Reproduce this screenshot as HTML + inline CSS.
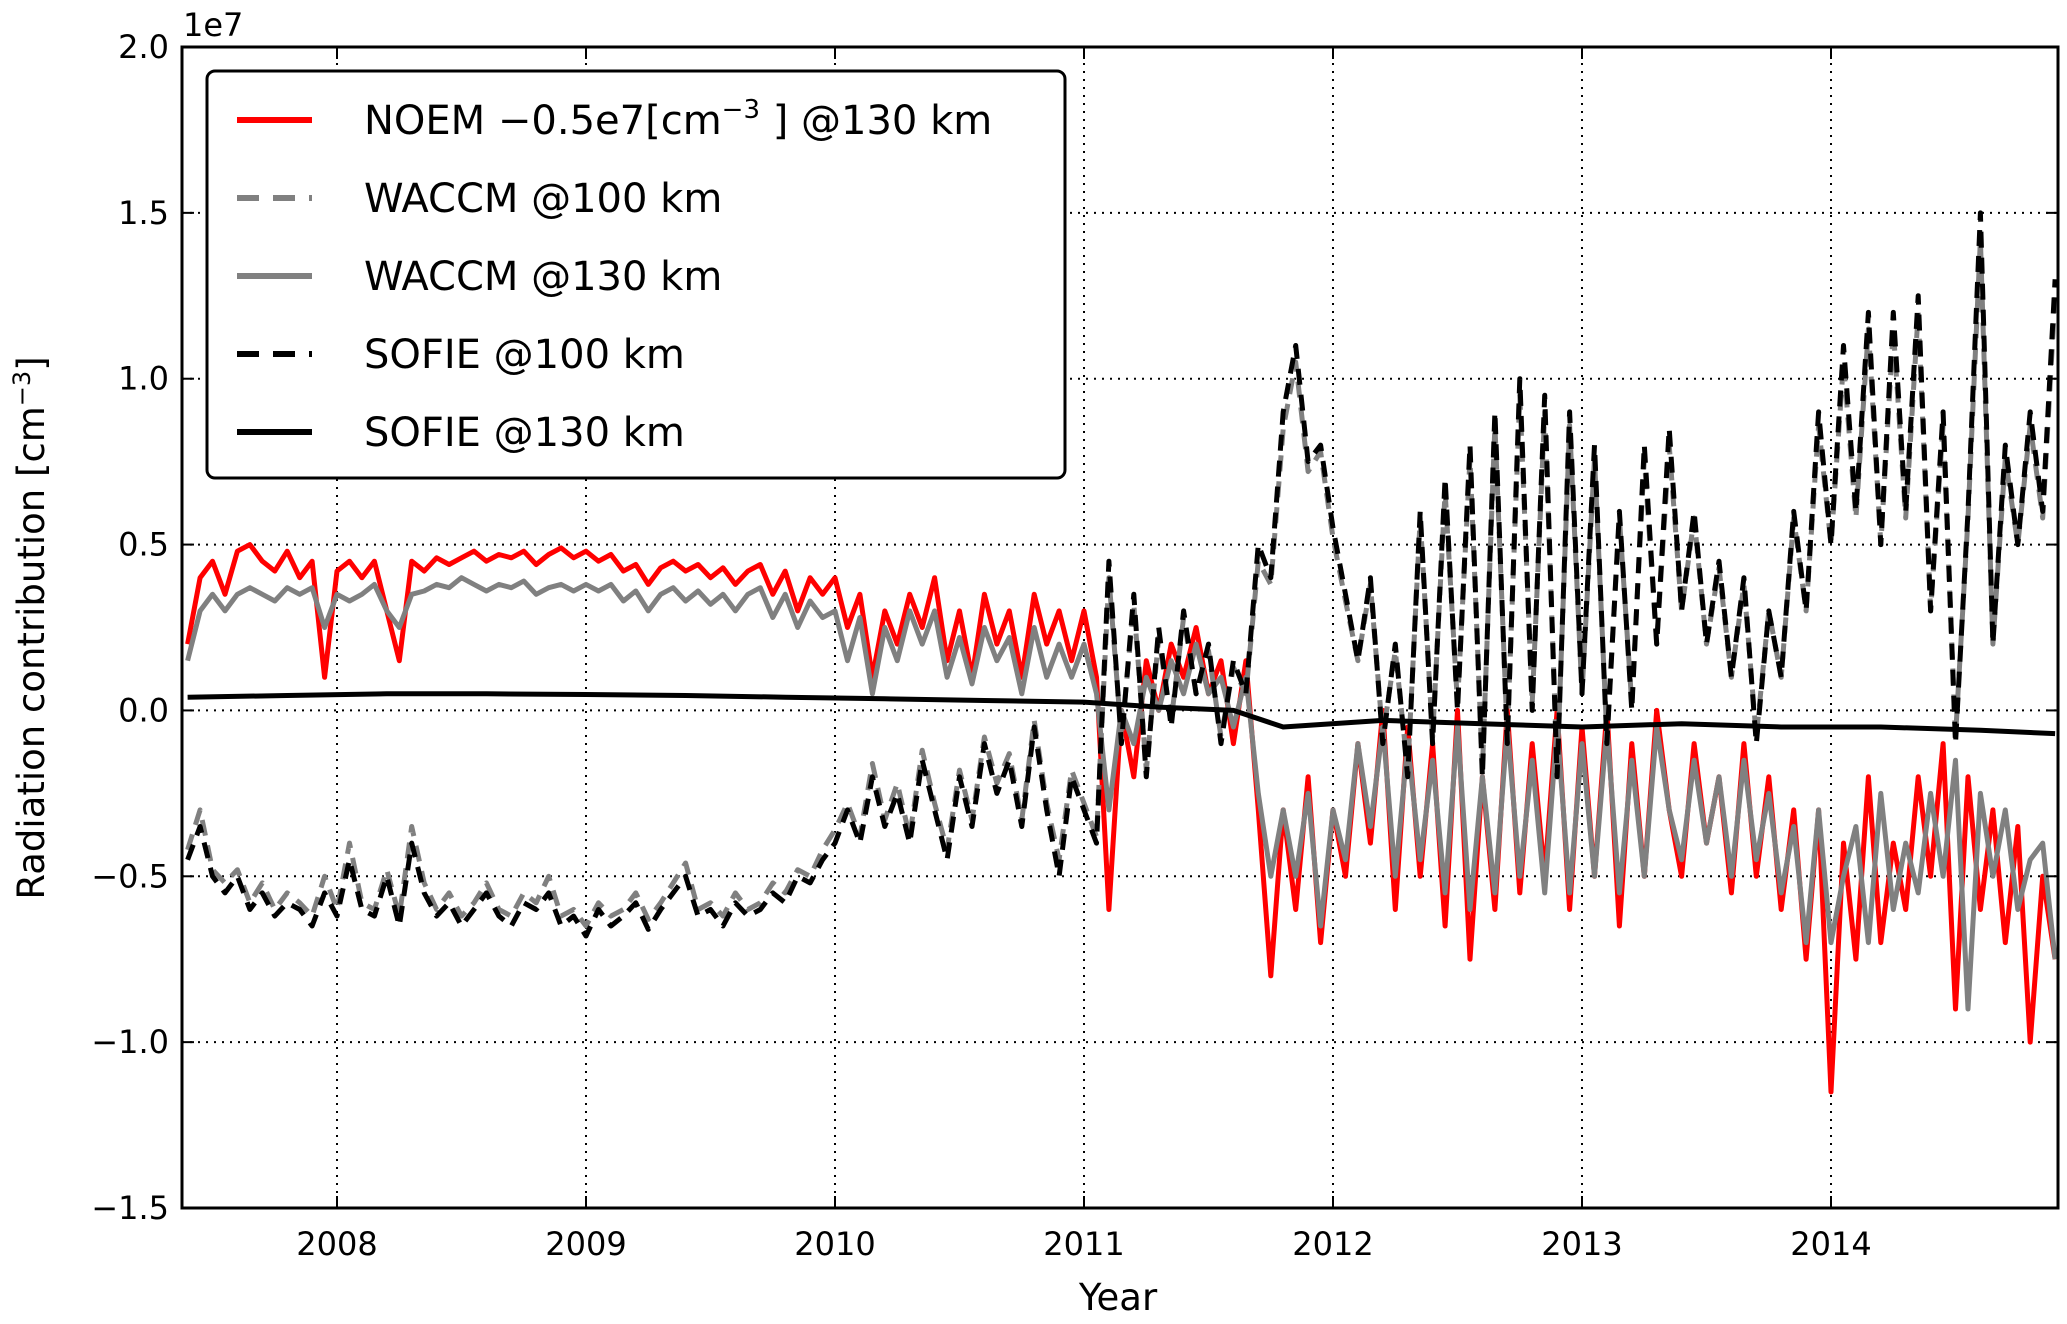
<!DOCTYPE html>
<html><head><meta charset="utf-8"><style>
html,body{margin:0;padding:0;background:#fff;}
svg text{font-family:"DejaVu Sans","Liberation Sans",sans-serif;fill:#000;}
</style></head><body>
<svg id="chart" width="2067" height="1319" viewBox="0 0 2067 1319" xmlns="http://www.w3.org/2000/svg">
<g id="grid"></g>
<g id="series"></g>
<g id="axes"></g>
<g id="legend"></g>
</svg>
<script>
const xTicks = [2008, 2009, 2010, 2011, 2012, 2013, 2014];
const yTicks = [-1.5, -1.0, -0.5, 0.0, 0.5, 1.0, 1.5, 2.0];
const yTickLabels = ["\u22121.5", "\u22121.0", "\u22120.5", "0.0", "0.5", "1.0", "1.5", "2.0"];
const tStart = 2007.4;
const tStep = 0.05;
const sofie100 = [-0.45,-0.35,-0.5,-0.55,-0.5,-0.6,-0.55,-0.62,-0.58,-0.6,-0.65,-0.55,-0.62,
-0.45,-0.6,-0.62,-0.5,-0.65,-0.4,-0.55,-0.62,-0.58,-0.65,-0.6,-0.55,-0.62,-0.65,-0.58,-0.6,-0.55,-0.65,-0.62,-0.68,
-0.6,-0.65,-0.62,-0.58,-0.66,-0.6,-0.55,-0.5,-0.62,-0.6,-0.65,-0.58,-0.62,-0.6,-0.55,-0.58,-0.5,-0.52,-0.45,-0.4,
-0.3,-0.4,-0.2,-0.35,-0.25,-0.4,-0.15,-0.3,-0.45,-0.2,-0.35,-0.1,-0.25,-0.15,-0.35,-0.05,-0.3,-0.5,-0.2,-0.3,
-0.4,0.45,-0.1,0.35,-0.2,0.25,-0.05,0.3,0.05,0.2,-0.1,0.15,0.05,0.5,
0.4,0.9,1.1,0.75,0.8,0.55,0.35,0.15,0.4,-0.1,0.2,-0.2,0.6,
-0.1,0.7,0.0,0.8,-0.2,0.9,-0.1,1.0,0.0,0.95,-0.2,0.9,0.05,
0.8,-0.1,0.6,0.0,0.8,0.2,0.85,0.3,0.6,0.2,0.45,0.1,0.4,
-0.1,0.3,0.1,0.6,0.3,0.9,0.5,1.1,0.6,1.2,0.5,1.2,0.6,
1.25,0.3,0.9,-0.1,0.6,1.5,0.2,0.8,0.5,0.9,0.6,1.3];
const waccm100 = [-0.42,-0.3,-0.48,-0.52,-0.48,-0.58,-0.52,-0.6,-0.55,-0.58,-0.62,-0.5,-0.6,
-0.4,-0.58,-0.6,-0.48,-0.62,-0.35,-0.52,-0.6,-0.55,-0.62,-0.58,-0.52,-0.6,-0.62,-0.55,-0.58,-0.5,-0.62,-0.6,-0.65,
-0.58,-0.62,-0.6,-0.55,-0.63,-0.58,-0.52,-0.46,-0.6,-0.58,-0.62,-0.55,-0.6,-0.58,-0.52,-0.55,-0.48,-0.5,-0.42,-0.36,
-0.28,-0.38,-0.16,-0.33,-0.22,-0.38,-0.12,-0.28,-0.42,-0.18,-0.33,-0.08,-0.22,-0.13,-0.33,-0.03,-0.28,-0.45,-0.18,-0.28,
-0.38,0.4,-0.08,0.32,-0.18,0.22,-0.03,0.28,0.05,0.18,-0.08,0.13,0.05,0.45,
0.38,0.85,1.05,0.72,0.78,0.52,0.33,0.15,0.38,-0.08,0.18,-0.18,0.58,
-0.08,0.66,0.02,0.76,-0.18,0.86,-0.08,0.95,0.02,0.9,-0.18,0.86,0.05,
0.76,-0.08,0.58,0.02,0.76,0.2,0.8,0.3,0.58,0.2,0.43,0.1,0.38,
-0.08,0.3,0.1,0.58,0.3,0.86,0.5,1.05,0.58,1.15,0.5,1.15,0.58,
1.2,0.3,0.86,-0.08,0.58,1.42,0.2,0.76,0.5,0.86,0.58,1.25];
const noem = [0.2,0.4,0.45,0.35,0.48,0.5,0.45,0.42,0.48,0.4,0.45,0.1,0.42,
0.45,0.4,0.45,0.3,0.15,0.45,0.42,0.46,0.44,0.46,0.48,0.45,0.47,0.46,0.48,0.44,0.47,0.49,0.46,0.48,
0.45,0.47,0.42,0.44,0.38,0.43,0.45,0.42,0.44,0.4,0.43,0.38,0.42,0.44,0.35,0.42,0.3,0.4,0.35,0.4,
0.25,0.35,0.1,0.3,0.2,0.35,0.25,0.4,0.15,0.3,0.1,0.35,0.2,0.3,0.1,0.35,0.2,0.3,0.15,0.3,
0.1,-0.6,0.0,-0.2,0.15,0.0,0.2,0.1,0.25,0.05,0.15,-0.1,0.15,-0.3,
-0.8,-0.3,-0.6,-0.2,-0.7,-0.3,-0.5,-0.1,-0.4,0.0,-0.6,-0.05,-0.5,
-0.1,-0.65,0.0,-0.75,-0.2,-0.6,0.0,-0.55,-0.1,-0.5,0.0,-0.6,-0.05,
-0.5,0.0,-0.65,-0.1,-0.5,0.0,-0.3,-0.5,-0.1,-0.4,-0.2,-0.55,-0.1,
-0.5,-0.2,-0.6,-0.3,-0.75,-0.3,-1.15,-0.4,-0.75,-0.2,-0.7,-0.4,-0.6,
-0.2,-0.5,-0.1,-0.9,-0.2,-0.6,-0.3,-0.7,-0.35,-1.0,-0.5,-0.75];
const waccm130 = [0.15,0.3,0.35,0.3,0.35,0.37,0.35,0.33,0.37,0.35,0.37,0.25,0.35,
0.33,0.35,0.38,0.3,0.25,0.35,0.36,0.38,0.37,0.4,0.38,0.36,0.38,0.37,0.39,0.35,0.37,0.38,0.36,0.38,
0.36,0.38,0.33,0.36,0.3,0.35,0.37,0.33,0.36,0.32,0.35,0.3,0.35,0.37,0.28,0.35,0.25,0.33,0.28,0.3,
0.15,0.28,0.05,0.25,0.15,0.3,0.2,0.3,0.1,0.22,0.08,0.25,0.15,0.22,0.05,0.25,0.1,0.2,0.1,0.2,
0.05,-0.3,0.0,-0.1,0.1,0.0,0.15,0.05,0.2,0.05,0.1,-0.05,0.1,-0.25,
-0.5,-0.3,-0.5,-0.25,-0.65,-0.3,-0.45,-0.1,-0.35,-0.05,-0.5,-0.1,-0.45,
-0.15,-0.55,-0.05,-0.6,-0.2,-0.55,-0.05,-0.5,-0.15,-0.55,-0.05,-0.55,-0.1,
-0.5,-0.05,-0.55,-0.15,-0.5,-0.05,-0.3,-0.45,-0.15,-0.4,-0.2,-0.5,-0.15,
-0.45,-0.25,-0.55,-0.35,-0.7,-0.3,-0.7,-0.5,-0.35,-0.7,-0.25,-0.6,-0.4,
-0.55,-0.25,-0.5,-0.15,-0.9,-0.25,-0.5,-0.3,-0.6,-0.45,-0.4,-0.75];
const sofie130Years = [2007.4,2007.8,2008.2,2008.6,2009.0,2009.4,2009.8,2010.2,2010.6,2011.0,2011.3,2011.6,2011.8,2012.2,2012.6,2013.0,2013.4,2013.8,2014.2,2014.6,2014.9];
const sofie130 = [0.04,0.045,0.05,0.05,0.048,0.045,0.04,0.035,0.03,0.025,0.01,0.0,-0.05,-0.03,-0.04,-0.05,-0.04,-0.05,-0.05,-0.06,-0.07];

const NS = "http://www.w3.org/2000/svg";
const L = 182, R = 2058, T = 47, B = 1208;
const X0 = 2008, PXY = 249, XL = 337;
const x = t => XL + (t - X0) * PXY;
const y = v => B - (v + 1.5) / 3.5 * (B - T);
function mk(tag, attrs, parent) { const e = document.createElementNS(NS, tag); for (const k in attrs) e.setAttribute(k, attrs[k]); parent.appendChild(e); return e; }
const grid = document.getElementById('grid'), axes = document.getElementById('axes'), ser = document.getElementById('series'), leg = document.getElementById('legend');

xTicks.forEach(t => {
  const g = mk('line', {x1:x(t), x2:x(t), y1:T, y2:B, stroke:'#000', 'stroke-width':2, 'stroke-dasharray':'2 6'}, grid);
  
  
  mk('line', {x1:x(t), x2:x(t), y1:B, y2:B-12, stroke:'#000', 'stroke-width':2}, axes);
  mk('line', {x1:x(t), x2:x(t), y1:T, y2:T+12, stroke:'#000', 'stroke-width':2}, axes);
  const tx = mk('text', {x:x(t), y:B+47, 'font-size':32, 'text-anchor':'middle'}, axes);
  tx.textContent = t;
  
  
});
yTicks.forEach((v, i) => {
  if (v > -1.5 && v < 2.0) {
    const g = mk('line', {x1:L, x2:R, y1:y(v), y2:y(v), stroke:'#000', 'stroke-width':2, 'stroke-dasharray':'2 6'}, grid);
    
    
  }
  mk('line', {x1:L, x2:L+12, y1:y(v), y2:y(v), stroke:'#000', 'stroke-width':2}, axes);
  mk('line', {x1:R, x2:R-12, y1:y(v), y2:y(v), stroke:'#000', 'stroke-width':2}, axes);
  const tx = mk('text', {x:169, y:y(v)+11, 'font-size':32, 'text-anchor':'end'}, axes);
  tx.textContent = yTickLabels[i];
  
  
});

function path(years, vals, color, w, dash, name) {
  let d = '';
  vals.forEach((v, i) => { d += (i ? 'L' : 'M') + x(years(i)).toFixed(1) + ',' + y(v).toFixed(1); });
  const p = mk('path', {d:d, fill:'none', stroke:color, 'stroke-width':w, 'stroke-linejoin':'round'}, ser);
  if (dash) p.setAttribute('stroke-dasharray', dash);
  
  
}
const daily = i => tStart + i * tStep;
path(daily, noem, '#ff0000', 5, null, 'noem-130km-line');
path(daily, waccm100, '#808080', 5, '16 10', 'waccm-100km-line');
path(daily, waccm130, '#808080', 5, null, 'waccm-130km-line');
path(daily, sofie100, '#000', 5, '16 10', 'sofie-100km-line');
path(i => sofie130Years[i], sofie130, '#000', 5, null, 'sofie-130km-line');

mk('rect', {x:L, y:T, width:R-L, height:B-T, fill:'none', stroke:'#000', 'stroke-width':3}, axes);
const e7 = mk('text', {x:183, y:36, 'font-size':32}, axes);
e7.textContent = '1e7';


const yl = mk('text', {x:0, y:0, 'font-size':37, 'text-anchor':'middle', transform:'translate(44,628) rotate(-90)'}, axes);
yl.innerHTML = 'Radiation contribution [cm<tspan dy="-14" font-size="24">\u22123</tspan><tspan dy="14">]</tspan>';


const xl = mk('text', {x:1118, y:1310, 'font-size':37, 'text-anchor':'middle'}, axes);
xl.textContent = 'Year';



mk('rect', {x:207, y:71, width:858, height:407, rx:8, fill:'#fff', stroke:'#000', 'stroke-width':3}, leg);
const entries = [
  ['NOEM \u22120.5e7[cm<tspan dy="-16" font-size="26">\u22123</tspan><tspan dy="16"> ] @130 km</tspan>', '#ff0000', null],
  ['WACCM @100 km', '#808080', '16 10'],
  ['WACCM @130 km', '#808080', null],
  ['SOFIE @100 km', '#000', '16 10'],
  ['SOFIE @130 km', '#000', null]
];
entries.forEach((en, i) => {
  const cy = 120 + i * 78;
  const g = mk('g', {}, leg);
  
  
  const ln = mk('line', {x1:237, x2:312, y1:cy, y2:cy, stroke:en[1], 'stroke-width':6}, g);
  if (en[2]) ln.setAttribute('stroke-dasharray', '22 14');
  const t = mk('text', {x:364, y:cy+14, 'font-size':40}, g);
  t.innerHTML = en[0];
});
</script>
</body></html>
